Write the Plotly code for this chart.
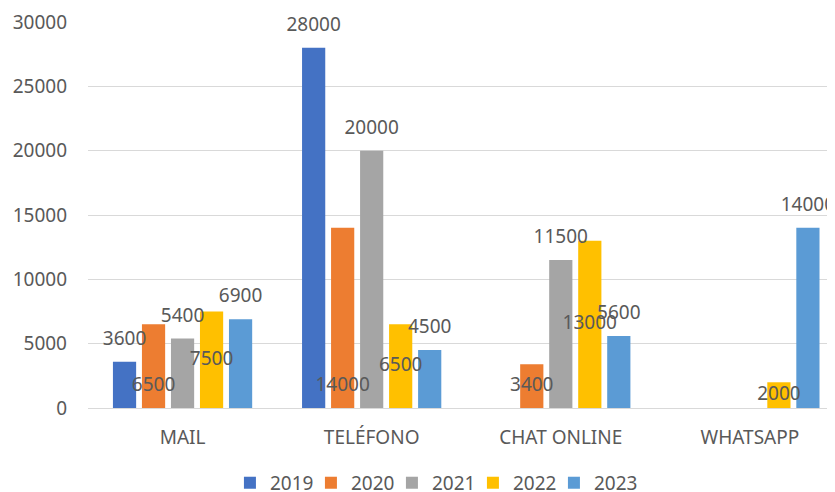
import plotly.graph_objects as go

# ---- data ----
categories = ["MAIL", "TELÉFONO", "CHAT ONLINE", "WHATSAPP"]
years = ["2019", "2020", "2021", "2022", "2023"]
v2019 = [3600, 28000, None, None]
v2020 = [6500, 14000, 3400, None]
v2021 = [5400, 20000, 11500, None]
v2022 = [7500, 6500, 13000, 2000]
v2023 = [6900, 4500, 5600, 14000]
y_ticks = [0, 5000, 10000, 15000, 20000, 25000, 30000]

series = [v2019, v2020, v2021, v2022, v2023]
colors = ["#4472C4", "#ED7D31", "#A5A5A5", "#FFC000", "#5B9BD5"]
# where each series' data labels sit (as in the original)
label_place = ["top", "base", "top", "middle", "top"]

FONT = "Noto Sans"
TXT = "#595959"
FS = 19

fig = go.Figure()
n = len(years)
for i, (name, vals, col) in enumerate(zip(years, series, colors)):
    fig.add_trace(go.Bar(
        name=name, x=categories, y=vals, offsetgroup=name,
        marker=dict(color=col, line=dict(width=0)),
        legendwidth=36 if i < n - 1 else None,
        hovertemplate=name + " %{x}: %{y}<extra></extra>",
    ))

for name, vals, place in zip(years, series, label_place):
    if place == "top":
        ys = vals
        pos = "top center"
    elif place == "base":
        ys = [0 if v is not None else None for v in vals]
        pos = "top center"
    else:
        ys = [v / 2 if v is not None else None for v in vals]
        pos = "middle center"
    texts = [str(v) if v is not None else "" for v in vals]
    fig.add_trace(go.Scatter(
        x=categories, y=ys, mode="markers+text", text=texts,
        textposition=pos, offsetgroup=name,
        textfont=dict(family=FONT, size=FS, color=TXT),
        marker=dict(size=18, opacity=0),
        showlegend=False, hoverinfo="skip", cliponaxis=False,
    ))

# the page body adds an 8px offset, so the figure is 8px smaller than the window
fig.update_layout(
    width=827, height=484,
    margin=dict(l=80, r=0, t=14, b=84, autoexpand=False),
    paper_bgcolor="white", plot_bgcolor="white",
    barmode="group", bargap=0.233, bargroupgap=0.2,
    scattermode="group", scattergap=0.233,
    font=dict(family=FONT, size=FS, color=TXT),
    showlegend=True,
    legend=dict(
        orientation="h", x=0.190, xanchor="left", y=-0.194, yanchor="middle",
        font=dict(family=FONT, size=FS, color=TXT),
        bgcolor="rgba(0,0,0,0)",
    ),
    xaxis=dict(
        type="category", range=[-0.5, 3.45], showgrid=False, showline=False,
        zeroline=False, ticks="", ticklabelstandoff=16, automargin=False,
        tickfont=dict(family=FONT, size=FS, color=TXT),
    ),
    yaxis=dict(
        range=[0, 30000], tickvals=y_ticks, tickformat="d",
        showgrid=True, gridcolor="#D9D9D9", gridwidth=1,
        zeroline=True, zerolinecolor="#D9D9D9", zerolinewidth=1,
        showline=False, ticks="", ticklabelstandoff=20, automargin=False,
        tickfont=dict(family=FONT, size=FS, color=TXT),
    ),
)

fig.write_html("out.html")
